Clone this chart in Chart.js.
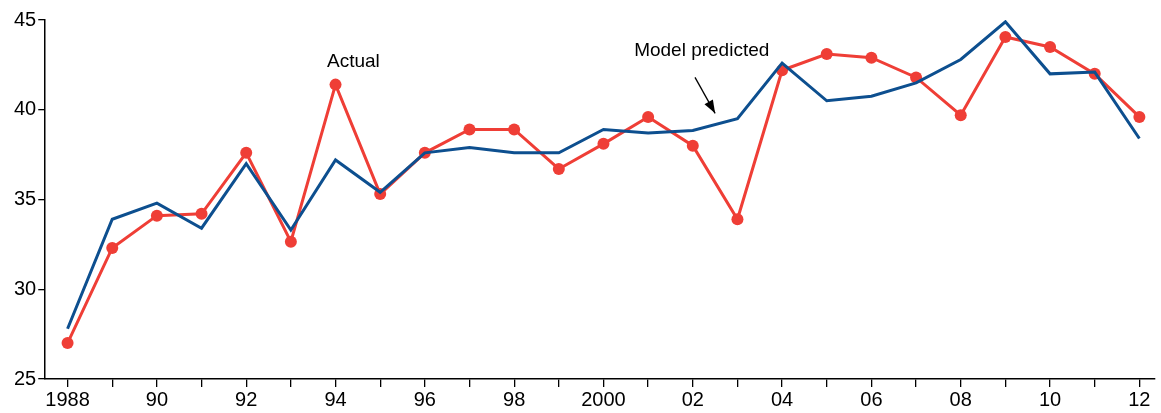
<!DOCTYPE html>
<html>
<head>
<meta charset="utf-8">
<script src="https://cdn.jsdelivr.net/npm/chart.js@4"></script>
<style>
  html, body { margin: 0; padding: 0; background: #fff; }
  #wrap { width: 1161px; height: 413px; }
</style>
</head>
<body>
<div id="wrap"><canvas id="myChart"></canvas></div>
<script>
var years = [1988, 1989, 1990, 1991, 1992, 1993, 1994, 1995, 1996, 1997, 1998, 1999, 2000,
             2001, 2002, 2003, 2004, 2005, 2006, 2007, 2008, 2009, 2010, 2011, 2012];
var actual = [27.0, 32.3, 34.1, 34.2, 37.6, 32.65, 41.4, 35.3, 37.6, 38.9, 38.9, 36.7, 38.1,
              39.6, 38.0, 33.9, 42.2, 43.1, 42.9, 41.8, 39.7, 44.05, 43.5, 42.0, 39.6];
var model = [27.8, 33.9, 34.8, 33.4, 37.0, 33.3, 37.2, 35.4, 37.6, 37.9, 37.6, 37.6, 38.9,
             38.7, 38.85, 39.5, 42.6, 40.5, 40.75, 41.5, 42.8, 44.9, 42.0, 42.1, 38.4];
var xTickLabels = {1988: '1988', 1990: '90', 1992: '92', 1994: '94', 1996: '96', 1998: '98',
                   2000: '2000', 2002: '02', 2004: '04', 2006: '06', 2008: '08', 2010: '10', 2012: '12'};

function pts(arr) {
  return arr.map(function (v, i) { return { x: years[i], y: v }; });
}

var notes = {
  id: 'notes',
  afterDatasetsDraw: function (chart) {
    var c = chart.ctx, xs = chart.scales.x, ys = chart.scales.y;
    c.save();
    c.fillStyle = '#000';
    c.font = '19px "Liberation Sans", Arial, sans-serif';
    c.textAlign = 'center';
    c.textBaseline = 'middle';
    c.fillText('Actual', xs.getPixelForValue(1994.4), ys.getPixelForValue(42.7));
    c.fillText('Model predicted', xs.getPixelForValue(2002.2), ys.getPixelForValue(43.3));
    // arrow
    var x1 = xs.getPixelForValue(2002.05), y1 = ys.getPixelForValue(41.8);
    var x2 = xs.getPixelForValue(2002.5), y2 = ys.getPixelForValue(39.8);
    c.strokeStyle = '#000';
    c.lineWidth = 1.3;
    c.beginPath(); c.moveTo(x1, y1); c.lineTo(x2, y2); c.stroke();
    var a = Math.atan2(y2 - y1, x2 - x1);
    c.beginPath();
    c.moveTo(x2, y2);
    c.lineTo(x2 - 14 * Math.cos(a - 0.35), y2 - 14 * Math.sin(a - 0.35));
    c.lineTo(x2 - 14 * Math.cos(a + 0.35), y2 - 14 * Math.sin(a + 0.35));
    c.closePath(); c.fill();
    c.restore();
  }
};

Chart.defaults.font.family = '"Liberation Sans", Arial, sans-serif';
Chart.defaults.font.size = 20;
Chart.defaults.color = '#000';

var chart = new Chart(document.getElementById('myChart'), {
  type: 'line',
  data: {
    datasets: [
      {
        label: 'Model predicted',
        data: pts(model),
        borderColor: '#0d4f8f',
        borderWidth: 3,
        pointRadius: 0,
        tension: 0
      },
      {
        label: 'Actual',
        data: pts(actual),
        borderColor: '#ef3e36',
        backgroundColor: '#ef3e36',
        borderWidth: 3,
        pointRadius: 6,
        pointBorderWidth: 0,
        tension: 0
      }
    ]
  },
  options: {
    responsive: true,
    maintainAspectRatio: false,
    animation: false,
    layout: { padding: { top: 20, right: 2, bottom: 0, left: 12 } },
    plugins: { legend: { display: false }, tooltip: { enabled: false } },
    scales: {
      x: {
        type: 'linear',
        min: 1987.5,
        max: 2012.35,
        afterBuildTicks: function (axis) {
          axis.ticks = years.map(function (y) { return { value: y }; });
        },
        ticks: {
          autoSkip: false,
          maxRotation: 0,
          padding: 1,
          callback: function (v) { return xTickLabels[v] || ''; }
        },
        grid: { drawOnChartArea: false, tickLength: 8, color: '#000', lineWidth: 1.3 },
        border: { color: '#000', width: 1.5 }
      },
      y: {
        min: 25,
        max: 45,
        ticks: { stepSize: 5, padding: 2 },
        grid: { drawOnChartArea: false, tickLength: 7, color: '#000', lineWidth: 1.3 },
        border: { color: '#000', width: 1.5 }
      }
    }
  },
  plugins: [notes]
});
</script>
</body>
</html>
